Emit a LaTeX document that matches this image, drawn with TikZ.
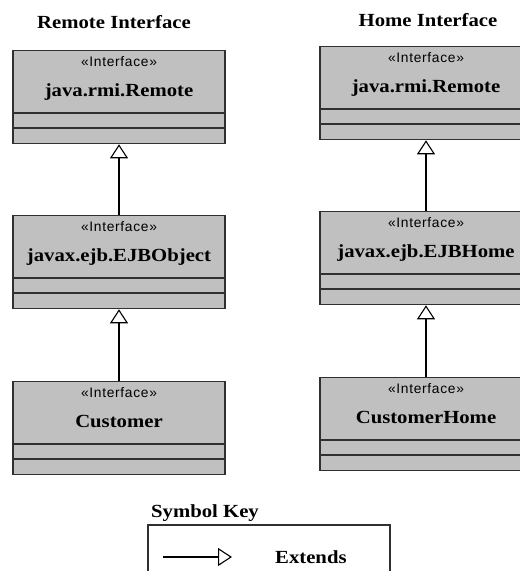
\documentclass[tikz,border=0pt]{standalone}
\usepackage{fontspec}
\setmainfont{Liberation Serif}
\newfontfamily\namefont[FakeStretch=1.12]{Liberation Serif}
\newfontfamily\stereofont[LetterSpace=5]{Liberation Sans}
\usetikzlibrary{arrows.meta}

\definecolor{classfill}{HTML}{C0C0C0}
\definecolor{edge}{HTML}{303030}

\tikzset{
  classbox/.style={draw=edge, fill=classfill, line width=1.3pt,
    minimum width=212pt, minimum height=93pt, inner sep=0pt, anchor=north},
  rule/.style={draw=edge, line width=1.3pt},
  stereo/.style={font=\stereofont\fontsize{13.8}{15}\selectfont, inner sep=0pt, anchor=base},
  cname/.style={font=\namefont\bfseries\fontsize{18.5}{22}\selectfont, inner sep=0pt, anchor=base},
  heading/.style={font=\namefont\bfseries\fontsize{18.5}{22}\selectfont, inner sep=0pt},
  extends/.style={draw=black, line width=1.3pt,
    -{Triangle[width=18pt, length=14pt, fill=white, line width=1.1pt]}},
}

% interface class: node name, centre x, top y, class name
\newcommand\ifaceclass[4]{%
  \node[classbox] (#1) at (#2pt,-#3pt) {};
  \draw[rule] ([yshift=-63pt]#1.north west) -- ([yshift=-63pt]#1.north east);
  \draw[rule] ([yshift=-78pt]#1.north west) -- ([yshift=-78pt]#1.north east);
  \node[stereo] (#1-st) at ([yshift=-16.5pt]#1.north) {«Interface»};
  \node[cname] (#1-nm) at ([yshift=-46pt]#1.north) {#4};
}

\begin{document}
\begin{tikzpicture}[x=1pt, y=1pt]
  \path[use as bounding box, clip] (0,0) rectangle (520,-571);
  \fill[white] (0,0) rectangle (520,-571);

  % column headings
  \node[heading, anchor=base] (remote-title) at (114,-28) {Remote Interface};
  \node[heading, anchor=base] (home-title) at (428,-26) {Home Interface};

  % remote interface hierarchy
  \ifaceclass{rremote}{119}{50}{java.rmi.Remote}
  \ifaceclass{ejbobject}{119}{215}{javax.ejb.EJBObject}
  \ifaceclass{customer}{119}{381}{Customer}

  % home interface hierarchy
  \ifaceclass{hremote}{426}{46}{java.rmi.Remote}
  \ifaceclass{ejbhome}{426}{211}{javax.ejb.EJBHome}
  \ifaceclass{customerhome}{426}{377}{CustomerHome}

  % generalisations
  \draw[extends] (ejbobject.north) -- (rremote.south);
  \draw[extends] (customer.north) -- (ejbobject.south);
  \draw[extends] (ejbhome.north) -- (hremote.south);
  \draw[extends] (customerhome.north) -- (ejbhome.south);

  % symbol key
  \node[heading, anchor=base west] (key-title) at (151,-517) {Symbol Key};
  \draw[draw=edge, line width=1.3pt] (148,-600) rectangle (390,-525);
  \coordinate (key-from) at (163,-557);
  \coordinate (key-to) at (232,-557);
  \draw[extends] (key-from) -- (key-to);
  \node[heading, anchor=base west] (key-label) at (275,-563) {Extends};
\end{tikzpicture}
\end{document}
